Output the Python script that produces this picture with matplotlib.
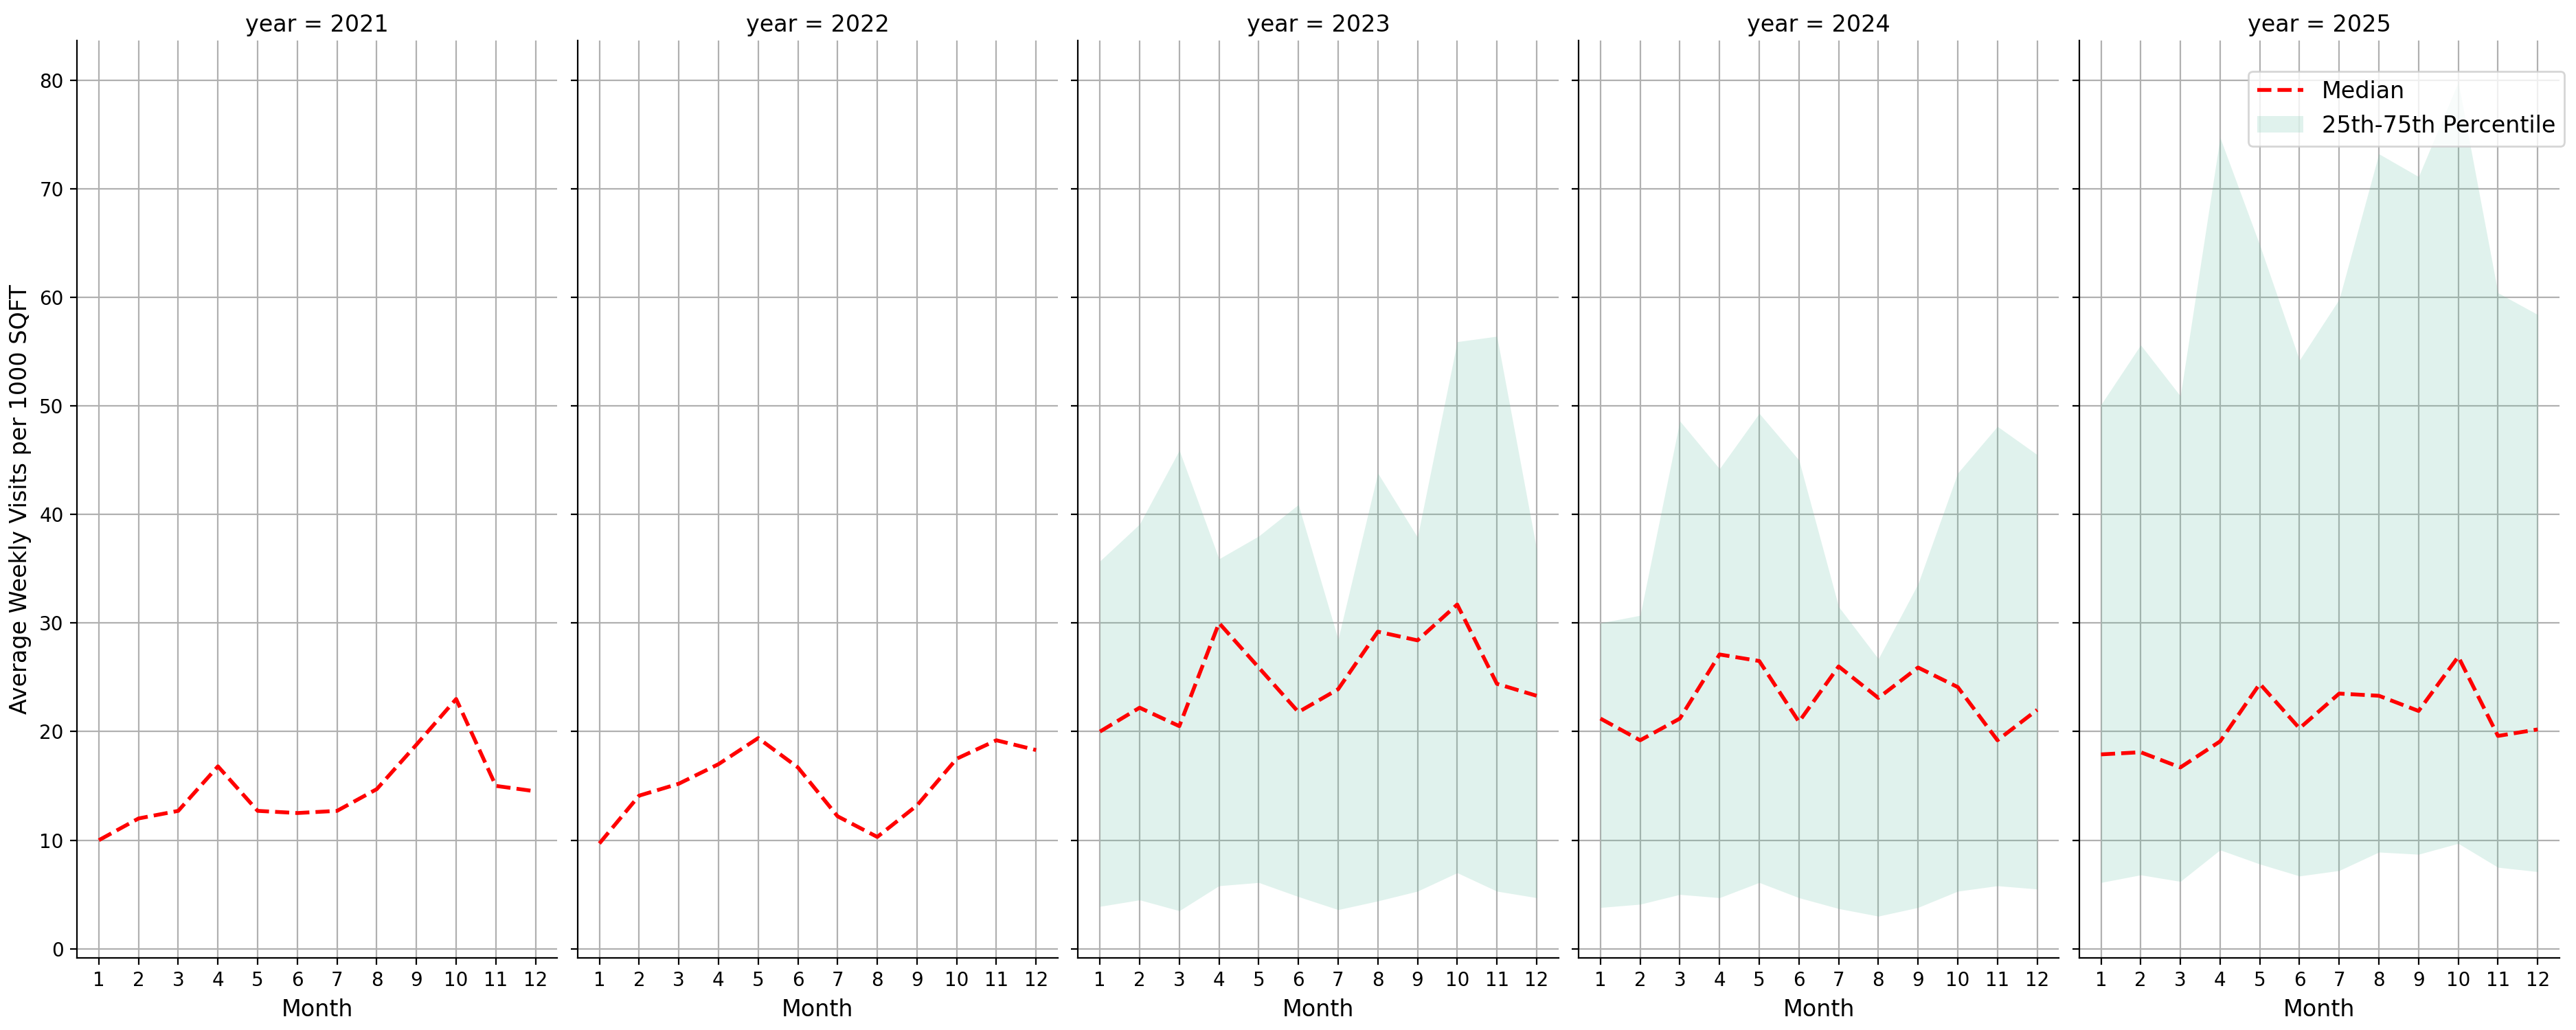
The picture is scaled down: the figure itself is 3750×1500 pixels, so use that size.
import matplotlib
matplotlib.use("Agg")
import matplotlib.pyplot as plt

months = list(range(1, 13))
years = [2021, 2022, 2023, 2024, 2025]

# median of average weekly visits per 1000 sqft, per month
median_2021 = [10.0, 12.0, 12.7, 16.8, 12.7, 12.5, 12.7, 14.7, 18.8, 23.0, 15.0, 14.5]
median_2022 = [9.7, 14.1, 15.2, 17.0, 19.4, 16.7, 12.2, 10.3, 13.2, 17.5, 19.2, 18.3]
median_2023 = [20.0, 22.2, 20.5, 30.0, 25.9, 21.8, 23.9, 29.2, 28.4, 31.7, 24.4, 23.3]
median_2024 = [21.2, 19.2, 21.2, 27.1, 26.5, 20.9, 26.0, 23.1, 25.9, 24.1, 19.2, 22.0]
median_2025 = [17.9, 18.1, 16.7, 19.1, 24.4, 20.3, 23.5, 23.3, 21.9, 26.9, 19.6, 20.2]

# 25th / 75th percentile (no band for 2021 and 2022)
p25_2023 = [3.9, 4.5, 3.5, 5.8, 6.1, 4.8, 3.6, 4.4, 5.3, 7.0, 5.3, 4.7]
p75_2023 = [35.7, 39.1, 45.9, 35.9, 38.0, 40.9, 28.5, 43.8, 37.9, 55.9, 56.4, 36.8]
p25_2024 = [3.8, 4.1, 5.0, 4.7, 6.1, 4.7, 3.7, 3.0, 3.8, 5.3, 5.8, 5.5]
p75_2024 = [30.0, 30.7, 48.6, 44.2, 49.3, 45.0, 31.5, 26.7, 33.6, 43.8, 48.1, 45.5]
p25_2025 = [6.1, 6.8, 6.2, 9.1, 7.8, 6.7, 7.2, 8.9, 8.7, 9.7, 7.5, 7.1]
p75_2025 = [50.1, 55.6, 50.9, 74.7, 64.8, 54.2, 59.8, 73.2, 71.1, 79.8, 60.4, 58.4]

medians = [median_2021, median_2022, median_2023, median_2024, median_2025]
p25s = [None, None, p25_2023, p25_2024, p25_2025]
p75s = [None, None, p75_2023, p75_2024, p75_2025]

fig, axes = plt.subplots(1, 5, figsize=(18.75, 7.5), sharey=True)
fig.subplots_adjust(left=0.0299, right=0.9936, top=0.9607, bottom=0.07, wspace=0.042)

for ax, year, med, lo, hi in zip(axes, years, medians, p25s, p75s):
    ax.grid(True)
    ax.set_axisbelow(True)
    ax.plot(months, med, color='red', linestyle='--', linewidth=2, label='Median')
    if lo is not None:
        ax.fill_between(months, lo, hi, color='#66c2a5', alpha=0.2, linewidth=0,
                        label='25th-75th Percentile')
    ax.set_title(f'year = {year}', fontsize=12, pad=4.5)
    ax.set_xticks(months)
    ax.set_xlabel('Month', fontsize=12)
    ax.tick_params(labelsize=10)
    ax.spines['top'].set_visible(False)
    ax.spines['right'].set_visible(False)

axes[0].set_ylabel('Average Weekly Visits per 1000 SQFT', fontsize=12)

handles, labels = axes[-1].get_legend_handles_labels()
fig.legend(handles, labels, loc='upper right', bbox_to_anchor=(1, 0.942), fontsize=12)

fig.savefig('out.png', dpi=200)
